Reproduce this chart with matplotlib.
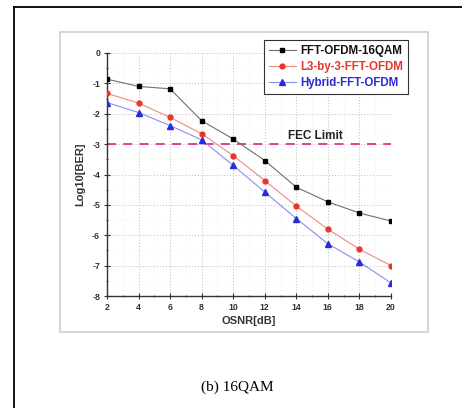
import matplotlib
matplotlib.use("Agg")
import matplotlib.pyplot as plt
from matplotlib.lines import Line2D
from matplotlib.patches import Rectangle
from matplotlib.ticker import MultipleLocator

plt.rcParams["axes.unicode_minus"] = False

osnr = [2, 4, 6, 8, 10, 12, 14, 16, 18, 20]
fft_ofdm = [-0.86, -1.10, -1.18, -2.23, -2.83, -3.54, -4.42, -4.90, -5.27, -5.53]
l3_fft = [-1.33, -1.65, -2.12, -2.66, -3.38, -4.20, -5.04, -5.80, -6.46, -7.00]
hybrid = [-1.63, -1.96, -2.39, -2.86, -3.70, -4.58, -5.45, -6.28, -6.88, -7.57]
fec_limit = -3
labels = ["FFT-OFDM-16QAM", "L3-by-3-FFT-OFDM", "Hybrid-FFT-OFDM"]
xticks = [2, 4, 6, 8, 10, 12, 14, 16, 18, 20]
yticks = [0, -1, -2, -3, -4, -5, -6, -7, -8]

W, H = 462, 408
fig = plt.figure(figsize=(W / 100, H / 100), dpi=100)
fig.patch.set_facecolor("white")

def fx(px):
    return px / W

def fy(py):
    return 1 - py / H

# outer frame (top and left lines)
fig.add_artist(Line2D([fx(14), 1.0], [fy(7), fy(7)], color="black", lw=1.3, transform=fig.transFigure))
fig.add_artist(Line2D([fx(14), fx(14)], [fy(7), 0.0], color="black", lw=1.3, transform=fig.transFigure))
# inner gray box
fig.add_artist(Rectangle((fx(60), fy(332)), fx(428) - fx(60), fy(32) - fy(332),
                         fill=False, edgecolor="#cfcfcf", lw=1.2, transform=fig.transFigure))

ax = fig.add_axes([fx(107), fy(296), fx(391) - fx(107), fy(53) - fy(296)])
ax.set_xlim(2, 20)
ax.set_ylim(-8, 0)
for s in ["top", "right"]:
    ax.spines[s].set_visible(False)
for s in ["left", "bottom"]:
    ax.spines[s].set_color("#333333")
    ax.spines[s].set_linewidth(1.0)

ax.set_xticks(xticks)
ax.set_yticks(yticks)
ax.xaxis.set_minor_locator(MultipleLocator(1))
ax.yaxis.set_minor_locator(MultipleLocator(0.5))
ax.tick_params(which="major", direction="inout", length=4, width=0.8, labelsize=6.3, colors="#333333", pad=3)
ax.tick_params(which="minor", direction="inout", length=2, width=0.6, colors="#333333")
for lab in ax.get_xticklabels() + ax.get_yticklabels():
    lab.set_fontweight("bold")
    lab.set_family("Liberation Sans")
ax.grid(True, which="major", linestyle=(0, (1, 2)), color="#bdbdbd", lw=0.7)
ax.grid(True, which="minor", linestyle=(0, (1, 3)), color="#e4e4e4", lw=0.5)

ax.axhline(fec_limit, color="#e0308a", lw=1.3, ls=(0, (5, 4)), zorder=2)
ax.text(13.5, fec_limit + 0.08, "FEC Limit", fontsize=8.5, fontweight="bold",
        family="Liberation Sans", color="#222222", va="bottom")

l1, = ax.plot(osnr, fft_ofdm, color="#707070", lw=0.8, marker="s", ms=3.3,
              mfc="black", mec="black", label=labels[0], zorder=3)
l2, = ax.plot(osnr, l3_fft, color="#f08a80", lw=0.8, marker="o", ms=3.5,
              mfc="#e8352a", mec="#e8352a", label=labels[1], zorder=3)
l3, = ax.plot(osnr, hybrid, color="#8a8ef0", lw=0.8, marker="^", ms=3.7,
              mfc="#2a2ad8", mec="#2a2ad8", label=labels[2], zorder=3)

leg = ax.legend(handles=[l1, l2, l3], loc="upper left",
                bbox_to_anchor=((264 - 107) / (391 - 107), 1 + (53 - 40) / (296 - 53)),
                prop={"family": "Liberation Sans", "weight": "bold", "size": 8.3},
                frameon=True, fancybox=False, edgecolor="#333333", framealpha=1,
                handlelength=2.3, handletextpad=0.4, borderpad=0.45, labelspacing=0.35,
                borderaxespad=0)
leg.get_frame().set_linewidth(0.8)
for t, c in zip(leg.get_texts(), ["#111111", "#e8352a", "#2a2ad8"]):
    t.set_color(c)

ax.set_xlabel("OSNR[dB]", fontsize=8, fontweight="bold", family="Liberation Sans",
              color="#333333", labelpad=3)
ax.set_ylabel("Log10[BER]", fontsize=8, fontweight="bold", family="Liberation Sans",
              color="#333333", labelpad=5)

fig.text(fx(237), fy(387), "(b) 16QAM", fontsize=11, family="Liberation Serif",
         ha="center", va="center", color="black")

fig.savefig("out.png", dpi=100)
